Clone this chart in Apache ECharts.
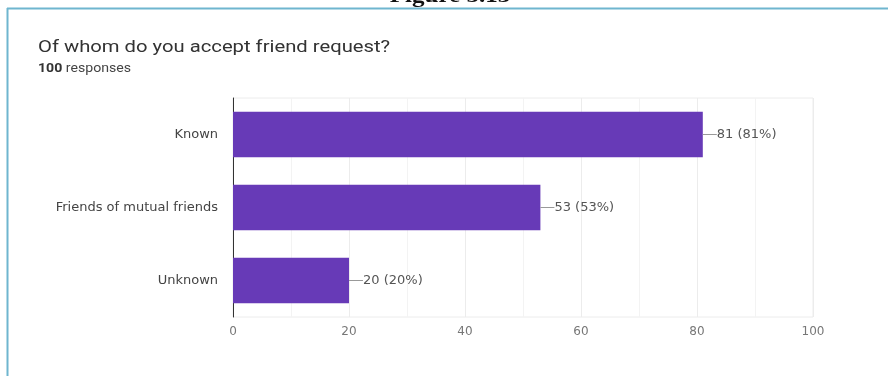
<!DOCTYPE html>
<html>
<head>
<meta charset="utf-8">
<style>
  html, body { margin: 0; padding: 0; background: #fff; }
  #chart { width: 888px; height: 376px; }
</style>
<script src="https://cdn.jsdelivr.net/npm/echarts@6/dist/echarts.min.js"></script>
</head>
<body>
<div id="chart"></div>
<script>
// Survey answers: who respondents accept friend requests from
const categories = ['Known', 'Friends of mutual friends', 'Unknown'];
const counts = [81, 53, 20];
const totalResponses = 100;
const axisTicks = [0, 20, 40, 60, 80, 100];

const chart = echarts.init(document.getElementById('chart'), null, { renderer: 'canvas' });

const labelFont = '"DejaVu Sans", Verdana, sans-serif';

const option = {
  animation: false,
  backgroundColor: '#ffffff',
  graphic: [
    // figure caption, cut off by the top edge of the page
    { type: 'text', x: 450, y: -3, scaleX: 1.25, z: 10,
      style: { text: 'Figure 5.13', font: 'bold 20px "Liberation Serif", serif', fill: '#111',
        align: 'center', verticalAlign: 'middle' } },
    // card frame
    { type: 'line', shape: { x1: 7, y1: 8.5, x2: 888, y2: 8.5 }, style: { stroke: '#6fb6cf', lineWidth: 2 } },
    { type: 'line', shape: { x1: 7.5, y1: 8, x2: 7.5, y2: 376 }, style: { stroke: '#6fb6cf', lineWidth: 2 } },
    { type: 'text', x: 38, y: 48, scaleX: 1.19,
      style: { text: 'Of whom do you accept friend request?', font: '17px Roboto, sans-serif', fill: '#333',
        verticalAlign: 'middle' } },
    { type: 'text', x: 38, y: 69, scaleX: 1.13,
      style: { text: '{b|' + totalResponses + '} responses', font: '12.5px Roboto, sans-serif', fill: '#444',
        verticalAlign: 'middle',
        rich: { b: { fontWeight: 'bold', fontSize: 12.5, fontFamily: 'Roboto, sans-serif', fill: '#333' } } } }
  ],
  grid: {
    left: 233, right: 75, top: 98, bottom: 59,
    show: true, borderColor: '#ececec', borderWidth: 1
  },
  xAxis: {
    type: 'value', min: axisTicks[0], max: axisTicks[axisTicks.length - 1], interval: 20,
    axisLine: { show: false },
    axisTick: { show: false },
    axisLabel: { color: '#777', fontSize: 12, fontFamily: labelFont, margin: 9 },
    splitLine: { lineStyle: { color: '#ececec' } },
    minorTick: { show: false, splitNumber: 2 },
    minorSplitLine: { show: true, lineStyle: { color: '#f3f3f3' } }
  },
  yAxis: {
    type: 'category', data: categories, inverse: true,
    axisLine: { lineStyle: { color: '#333', width: 1 } },
    axisTick: { show: false },
    axisLabel: { color: '#444', fontSize: 13, fontFamily: labelFont, margin: 15 }
  },
  series: [{
    type: 'bar',
    data: counts,
    barCategoryGap: '38%',
    itemStyle: { color: '#673ab7' },
    label: {
      show: true, position: 'right', distance: 0,
      formatter: p => '{l|}' + p.value + ' (' + Math.round(p.value / totalResponses * 100) + '%)',
      color: '#555', fontSize: 13, fontFamily: labelFont,
      rich: {
        l: { width: 14, height: 1, backgroundColor: '#999', padding: 0 }
      }
    }
  }]
};

chart.setOption(option);
</script>
</body>
</html>
